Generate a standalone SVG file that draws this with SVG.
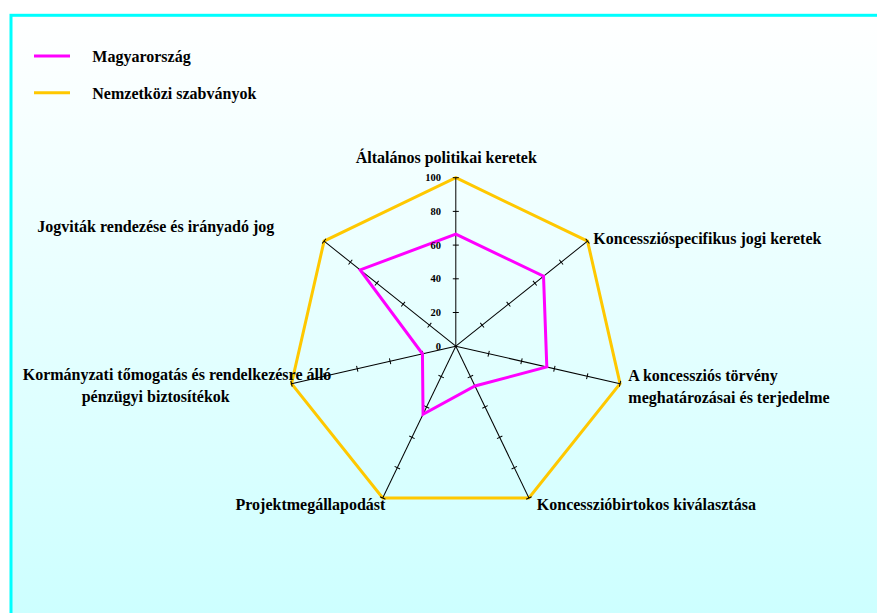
<svg xmlns="http://www.w3.org/2000/svg" xmlns:xlink="http://www.w3.org/1999/xlink" width="877" height="613" viewBox="0 0 877 613">
  <defs>
    <linearGradient id="bg" x1="0" y1="0" x2="0" y2="1">
      <stop offset="0" stop-color="#ffffff"/>
      <stop offset="1" stop-color="#ccffff"/>
    </linearGradient>
    <g id="axis">
      <line x1="455.8" y1="346.2" x2="455.8" y2="177.7"/>
      <path d="M452.8 312.5h6M452.8 278.8h6M452.8 245.1h6M452.8 211.4h6M452.8 177.7h6"/>
    </g>
  </defs>
  <style>
    .lbl { font-family: "Liberation Serif", "Times New Roman", serif; font-weight: bold; font-size: 16px; fill: #000; }
    .tick { font-family: "Liberation Serif", "Times New Roman", serif; font-weight: bold; font-size: 10.5px; fill: #000; text-anchor: end; }
    .ax { stroke: #000; stroke-width: 1; fill: none; }
    .hu { stroke: #ff00ff; stroke-width: 3; fill: none; stroke-linejoin: miter; }
    .intl { stroke: #ffc800; stroke-width: 3; fill: none; stroke-linejoin: miter; }
  </style>
  <rect x="0" y="0" width="877" height="613" fill="#ffffff"/>
  <rect x="11" y="15.3" width="880" height="610" fill="url(#bg)" stroke="#00ffff" stroke-width="3"/>

  <g id="legend">
    <line x1="34" y1="56" x2="70" y2="56" class="hu" stroke-width="3.5"/>
    <text x="92.3" y="62" class="lbl">Magyarország</text>
    <line x1="34" y1="92.7" x2="70" y2="92.7" class="intl" stroke-width="3.5"/>
    <text x="92.3" y="98.7" class="lbl">Nemzetközi szabványok</text>
  </g>

  <g id="series-intl">
    <polygon class="intl" points="455.8,177.7 587.54,241.14 620.08,383.69 528.91,498.01 382.69,498.01 291.52,383.69 324.06,241.14"/>
  </g>

  <g id="axes" class="ax">
    <use xlink:href="#axis"/>
    <use xlink:href="#axis" transform="rotate(51.4286 455.8 346.2)"/>
    <use xlink:href="#axis" transform="rotate(102.8571 455.8 346.2)"/>
    <use xlink:href="#axis" transform="rotate(154.2857 455.8 346.2)"/>
    <use xlink:href="#axis" transform="rotate(205.7143 455.8 346.2)"/>
    <use xlink:href="#axis" transform="rotate(257.1429 455.8 346.2)"/>
    <use xlink:href="#axis" transform="rotate(308.5714 455.8 346.2)"/>
  </g>

  <g id="series-hu">
    <polygon class="hu" points="455.8,234.15 543.52,276.24 546.81,366.97 474.96,385.98 423.05,414.21 422.45,353.81 360.16,269.93"/>
  </g>

  <g id="scale">
    <text x="441" y="181.2" class="tick">100</text>
    <text x="441" y="214.9" class="tick">80</text>
    <text x="441" y="248.6" class="tick">60</text>
    <text x="441" y="282.3" class="tick">40</text>
    <text x="441" y="316" class="tick">20</text>
    <text x="441" y="349.7" class="tick">0</text>
  </g>

  <g id="labels">
    <text x="446.3" y="163.3" class="lbl" text-anchor="middle">Általános politikai keretek</text>
    <text x="593.3" y="244" class="lbl">Koncesszióspecifikus jogi keretek</text>
    <text x="628.3" y="381" class="lbl">A koncessziós törvény</text>
    <text x="628.3" y="402.7" class="lbl">meghatározásai és terjedelme</text>
    <text x="536.8" y="510" class="lbl">Koncesszióbirtokos kiválasztása</text>
    <text x="385.4" y="510" class="lbl" text-anchor="end">Projektmegállapodást</text>
    <text x="22.7" y="380" class="lbl">Kormányzati tőmogatás és rendelkezésre álló</text>
    <text x="81.7" y="401.7" class="lbl">pénzügyi biztosítékok</text>
    <text x="37.3" y="232.3" class="lbl">Jogviták rendezése és irányadó jog</text>
  </g>
</svg>
